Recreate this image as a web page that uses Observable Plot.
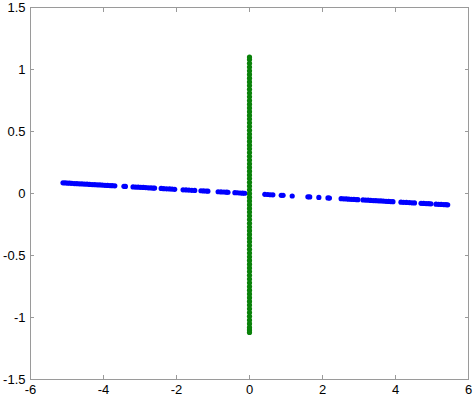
<!DOCTYPE html>
<html><head><meta charset="utf-8">
<script src="https://cdn.jsdelivr.net/npm/d3@7"></script>
<script src="https://cdn.jsdelivr.net/npm/@observablehq/plot@0.6"></script>
<style>body{margin:0;background:#fff}</style>
</head><body><div id="chart"></div>
<script>
const xTicks = [-6, -4, -2, 0, 2, 4, 6];
const yTicks = [-1.5, -1, -0.5, 0, 0.5, 1, 1.5];

const blueX = [-5.11,-5.05,-4.99,-4.93,-4.87,-4.80,-4.73,-4.66,-4.59,-4.52,-4.45,-4.38,-4.31,-4.24,-4.17,-4.10,-4.03,-3.96,-3.89,-3.82,-3.76,-3.69,
  -3.44,-3.40,
  -3.19,-3.12,-3.05,-2.98,-2.91,-2.84,-2.77,-2.70,-2.64,-2.60,
  -2.42,-2.35,-2.27,-2.19,-2.12,-2.05,
  -1.82,-1.74,-1.66,-1.58,-1.50,
  -1.33,-1.26,-1.19,-1.14,
  -0.86,-0.78,-0.70,-0.63,-0.59,
  -0.40,-0.33,-0.26,-0.19,-0.13,
  0.42,0.50,0.57,0.64,
  0.87,0.92,
  1.17,
  1.60,1.65,
  1.90,
  2.15,2.19,
  2.51,2.58,2.65,2.72,2.79,2.86,2.92,2.97,
  3.11,3.18,3.25,3.32,3.39,3.46,3.53,3.60,3.67,3.74,3.81,3.87,3.93,
  4.15,4.22,4.30,4.38,4.45,4.52,
  4.70,4.77,4.84,4.91,4.97,
  5.11,5.18,5.25,5.32,5.38,5.43];
const blueY = [0.086,0.085,0.084,0.083,0.082,0.080,0.079,0.078,0.077,0.076,0.075,0.073,0.072,0.071,0.070,0.069,0.068,0.066,0.065,0.064,0.063,0.062,
  0.058,0.057,
  0.053,0.052,0.051,0.050,0.049,0.048,0.046,0.045,0.044,0.044,
  0.041,0.039,0.038,0.037,0.036,0.034,
  0.030,0.029,0.028,0.026,0.025,
  0.022,0.021,0.020,0.019,
  0.014,0.013,0.012,0.011,0.010,
  0.007,0.006,0.004,0.003,0.002,
  -0.007,-0.008,-0.010,-0.011,
  -0.015,-0.015,
  -0.020,
  -0.027,-0.028,
  -0.032,
  -0.036,-0.037,
  -0.042,-0.043,-0.044,-0.046,-0.047,-0.048,-0.049,-0.050,
  -0.052,-0.053,-0.054,-0.056,-0.057,-0.058,-0.059,-0.060,-0.061,-0.063,-0.064,-0.065,-0.066,
  -0.070,-0.071,-0.072,-0.073,-0.075,-0.076,
  -0.079,-0.080,-0.081,-0.082,-0.083,
  -0.086,-0.087,-0.088,-0.089,-0.090,-0.091];

const greenY = [1.10,1.08,1.05,1.02,0.99,0.96,0.93,0.90,0.87,0.84,0.81,0.78,0.75,0.72,0.69,0.66,0.63,0.60,0.57,0.54,0.51,0.48,0.45,0.42,0.39,0.36,0.33,0.30,0.27,0.24,0.21,0.18,0.15,0.12,0.09,0.06,0.03,0.00,
  -0.03,-0.06,-0.09,-0.12,-0.15,-0.18,-0.21,-0.24,-0.27,-0.30,-0.33,-0.36,-0.39,-0.42,-0.45,-0.48,-0.51,-0.54,-0.57,-0.60,-0.63,-0.66,-0.69,-0.72,-0.75,-0.78,-0.81,-0.84,-0.87,-0.90,-0.93,-0.96,-0.99,-1.02,-1.05,-1.08,-1.10,-1.12];
const greenX = greenY.map(() => 0);

const blue = blueX.map((x, i) => ({x, y: blueY[i]}));
const green = greenY.map((y, i) => ({x: greenX[i], y}));

const fmt = d => String(d);
const tickColor = "#9a9a9a";

const chart = Plot.plot({
  width: 476, height: 401,
  marginLeft: 30, marginRight: 8, marginTop: 7, marginBottom: 22,
  style: {fontFamily: "'Liberation Sans', Arial, sans-serif", fontSize: "13px", color: "#000", background: "#fff"},
  x: {domain: [-6, 6]},
  y: {domain: [-1.5, 1.5]},
  marks: [
    Plot.axisX({anchor: "bottom", ticks: xTicks, tickSize: 0, tickPadding: 5, tickFormat: fmt, label: null, fill: "#000"}),
    Plot.axisY({anchor: "left", ticks: yTicks, tickSize: 0, tickPadding: 5, tickFormat: fmt, label: null, fill: "#000"}),
    Plot.axisX({anchor: "bottom", ticks: xTicks, tickSize: -4, text: null, label: null, stroke: tickColor}),
    Plot.axisX({anchor: "top", ticks: xTicks, tickSize: -4, text: null, label: null, stroke: tickColor}),
    Plot.axisY({anchor: "left", ticks: yTicks, tickSize: -4, text: null, label: null, stroke: tickColor}),
    Plot.axisY({anchor: "right", ticks: yTicks, tickSize: -4, text: null, label: null, stroke: tickColor}),
    Plot.frame({stroke: tickColor}),
    Plot.dot(blue, {x: "x", y: "y", r: 2.6, fill: "#0000ff", stroke: "none"}),
    Plot.dot(green, {x: "x", y: "y", r: 2.6, fill: "#0a820a", stroke: "none"})
  ]
});
document.getElementById("chart").appendChild(chart);
</script>
</body></html>
